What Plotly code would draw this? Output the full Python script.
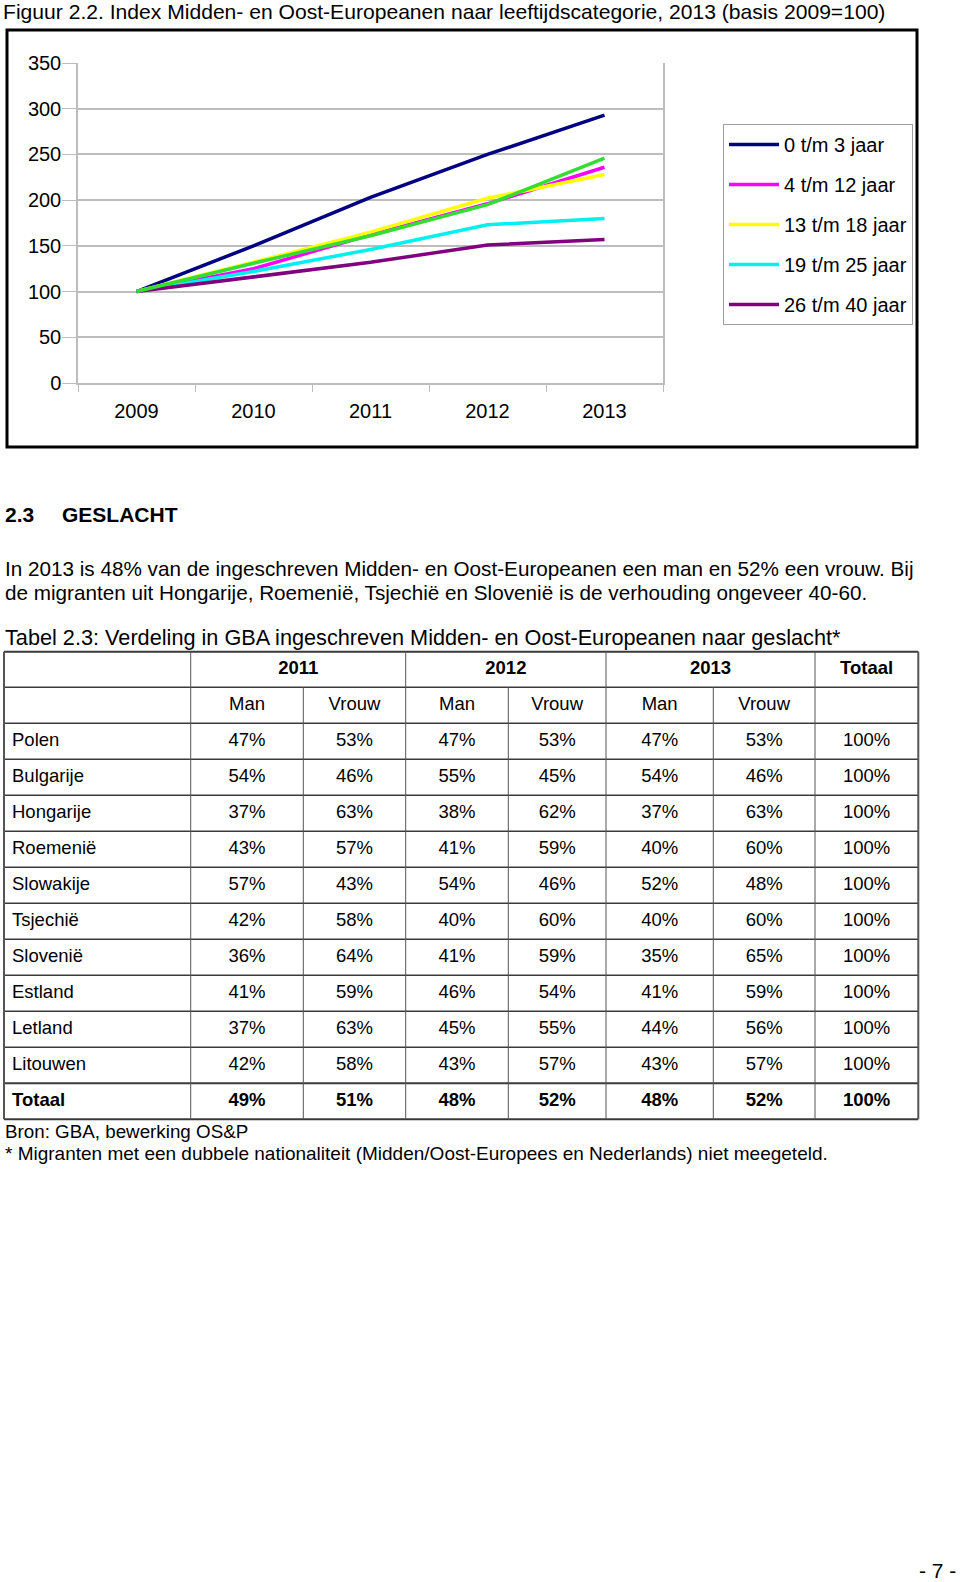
import plotly.graph_objects as go

# ---------------- chart data ----------------
years = ["2009", "2010", "2011", "2012", "2013"]
series_names = ["0 t/m 3 jaar", "4 t/m 12 jaar", "13 t/m 18 jaar", "19 t/m 25 jaar", "26 t/m 40 jaar"]
s_0_3 = [100, 150, 203, 250, 293]
s_4_12 = [100, 125, 162, 196, 236]
s_13_18 = [100, 132, 165, 202, 228]
s_19_25 = [100, 122, 146, 173, 180]
s_26_40 = [100, 116, 132, 151, 157]
s_other = [100, 131, 161, 195, 246]  # green line, not in legend
series_colors = ["#000080", "#FF00FF", "#FFFF00", "#00F0F0", "#800080"]
other_color = "#33DD33"

# ---------------- table data ----------------
countries = ["Polen", "Bulgarije", "Hongarije", "Roemenië", "Slowakije", "Tsjechië",
             "Slovenië", "Estland", "Letland", "Litouwen", "Totaal"]
man_2011 = [47, 54, 37, 43, 57, 42, 36, 41, 37, 42, 49]
vrouw_2011 = [53, 46, 63, 57, 43, 58, 64, 59, 63, 58, 51]
man_2012 = [47, 55, 38, 41, 54, 40, 41, 46, 45, 43, 48]
vrouw_2012 = [53, 45, 62, 59, 46, 60, 59, 54, 55, 57, 52]
man_2013 = [47, 54, 37, 40, 52, 40, 35, 41, 44, 43, 48]
vrouw_2013 = [53, 46, 63, 60, 48, 60, 65, 59, 56, 57, 52]
totaal = [100, 100, 100, 100, 100, 100, 100, 100, 100, 100, 100]
table_years = ["2011", "2012", "2013"]
sub_headers = ["Man", "Vrouw", "Man", "Vrouw", "Man", "Vrouw"]

W, H = 960, 1582
ARIAL = "Liberation Sans, Arial, sans-serif"


def px(x):
    return x / W


def py(y):
    return 1 - y / H


fig = go.Figure()

all_series = [s_0_3, s_4_12, s_13_18, s_19_25, s_26_40]
for i, (name, vals, col) in enumerate(zip(series_names, all_series, series_colors)):
    fig.add_trace(go.Scatter(x=years, y=vals, name=name, mode="lines",
                             line=dict(color=col, width=3.5),
                             legendgroup="g%d" % i, xaxis="x", yaxis="y"))
fig.add_trace(go.Scatter(x=years, y=s_other, name="overig", mode="lines",
                         line=dict(color=other_color, width=3.5),
                         showlegend=False, xaxis="x", yaxis="y"))

# ---------------- table (drawn on a pixel-space helper axis) ----------------
col_edges = [4, 190.7, 303.3, 405.7, 508.3, 606, 713.3, 815, 918.3]
row_edges = [651.7, 687.3, 723.3] + [723.3 + 36 * (k + 1) for k in range(11)]
col_centers = [(col_edges[k] + col_edges[k + 1]) / 2 for k in range(8)]
row_centers = [(row_edges[k] + row_edges[k + 1]) / 2 for k in range(13)]

value_cols = [man_2011, vrouw_2011, man_2012, vrouw_2012, man_2013, vrouw_2013, totaal]
n = len(countries)
tx, ty, tt = [], [], []
for r in range(n):
    for c, col in enumerate(value_cols):
        tx.append(col_centers[c + 1])
        ty.append(row_centers[r + 2])
        s = "%d%%" % col[r]
        tt.append("<b>%s</b>" % s if countries[r] == "Totaal" else s)
fig.add_trace(go.Scatter(x=tx, y=ty, text=tt, mode="text", textposition="middle center",
                         textfont=dict(family=ARIAL, size=18.5, color="black"),
                         showlegend=False, hoverinfo="skip", xaxis="x2", yaxis="y2"))
# row labels
fig.add_trace(go.Scatter(x=[col_edges[0] + 8] * n, y=row_centers[2:],
                         text=["<b>%s</b>" % c if c == "Totaal" else c for c in countries],
                         mode="text", textposition="middle right",
                         textfont=dict(family=ARIAL, size=18.5, color="black"),
                         showlegend=False, hoverinfo="skip", xaxis="x2", yaxis="y2"))
# header rows
hx = [(col_edges[1] + col_edges[3]) / 2, (col_edges[3] + col_edges[5]) / 2,
      (col_edges[5] + col_edges[7]) / 2, col_centers[7]]
fig.add_trace(go.Scatter(x=hx, y=[row_centers[0]] * 4,
                         text=["<b>%s</b>" % t for t in table_years + ["Totaal"]],
                         mode="text", textposition="middle center",
                         textfont=dict(family=ARIAL, size=18.5, color="black"),
                         showlegend=False, hoverinfo="skip", xaxis="x2", yaxis="y2"))
fig.add_trace(go.Scatter(x=col_centers[1:7], y=[row_centers[1]] * 6, text=sub_headers,
                         mode="text", textposition="middle center",
                         textfont=dict(family=ARIAL, size=18.5, color="black"),
                         showlegend=False, hoverinfo="skip", xaxis="x2", yaxis="y2"))

shapes = []
# chart frame
shapes.append(dict(type="rect", xref="paper", yref="paper", x0=px(7), x1=px(917),
                   y0=py(447), y1=py(30), line=dict(color="black", width=3)))
# table horizontal lines
for k, y in enumerate(row_edges):
    wdt = 2 if k in (0, len(row_edges) - 2, len(row_edges) - 1) else 1.5
    shapes.append(dict(type="line", xref="x2", yref="y2", x0=col_edges[0], x1=col_edges[-1],
                       y0=y, y1=y, line=dict(color="#3a3a3a", width=wdt)))
# table vertical lines
for k, x in enumerate(col_edges):
    y_start = row_edges[0] if k in (0, 1, 3, 5, 7, 8) else row_edges[1]
    wdt = 2 if k in (0, 8) else 1
    shapes.append(dict(type="line", xref="x2", yref="y2", x0=x, x1=x,
                       y0=y_start, y1=row_edges[-1], line=dict(color="#555555", width=wdt)))

annotations = []


def text(x, y, s, size=20.7, anchor="left", bold=False):
    annotations.append(dict(xref="paper", yref="paper", x=px(x), y=py(y),
                            text=("<b>%s</b>" % s) if bold else s, showarrow=False,
                            xanchor=anchor, yanchor="middle",
                            font=dict(family=ARIAL, size=size, color="black")))


text(1, 12, "Figuur 2.2. Index Midden- en Oost-Europeanen naar leeftijdscategorie, 2013 (basis 2009=100)", size=21.1)
text(3, 514, "2.3", size=21, bold=True)
text(60, 514, "GESLACHT", size=21, bold=True)
text(3, 568, "In 2013 is 48% van de ingeschreven Midden- en Oost-Europeanen een man en 52% een vrouw. Bij")
text(3, 592, "de migranten uit Hongarije, Roemenië, Tsjechië en Slovenië is de verhouding ongeveer 40-60.")
text(3, 638, "Tabel 2.3: Verdeling in GBA ingeschreven Midden- en Oost-Europeanen naar geslacht*", size=21.7)
text(3, 1131, "Bron: GBA, bewerking OS&P", size=18.8)
text(3, 1153, "* Migranten met een dubbele nationaliteit (Midden/Oost-Europees en Nederlands) niet meegeteld.", size=19)
text(958, 1570, "- 7 -", anchor="right", size=21)

GRID = "#BDBDBD"
fig.update_layout(
    width=W, height=H, margin=dict(l=0, r=0, t=0, b=0, autoexpand=False),
    paper_bgcolor="white", plot_bgcolor="rgba(0,0,0,0)",
    showlegend=True,
    legend=dict(x=px(723), y=py(124), xanchor="left", yanchor="top",
                bgcolor="white", bordercolor="#A0A0A0", borderwidth=1,
                font=dict(family=ARIAL, size=20, color="black"),
                tracegroupgap=11, itemwidth=50, traceorder="grouped"),
    xaxis=dict(domain=[px(78), px(663)], type="category", range=[-0.5, 4.5],
               showgrid=False, showline=True, linecolor=GRID, linewidth=1.5,
               ticks="outside", tickson="boundaries", ticklen=7, tickcolor=GRID,
               tickfont=dict(family=ARIAL, size=20, color="black"),
               ticklabelstandoff=9, zeroline=False, fixedrange=True),
    yaxis=dict(domain=[py(383), py(63)], range=[0, 350], dtick=50,
               showgrid=True, gridcolor=GRID, gridwidth=1.5,
               showline=True, mirror=True, linecolor=GRID, linewidth=1.5,
               ticks="outside", ticklen=14, tickcolor=GRID,
               tickfont=dict(family=ARIAL, size=20, color="black"),
               ticklabelstandoff=-3, zeroline=False, fixedrange=True),
    xaxis2=dict(domain=[0, 1], range=[0, W], visible=False, fixedrange=True),
    yaxis2=dict(domain=[0, 1], range=[H, 0], visible=False, fixedrange=True),
    shapes=shapes, annotations=annotations,
)

fig.write_html("out.html")
